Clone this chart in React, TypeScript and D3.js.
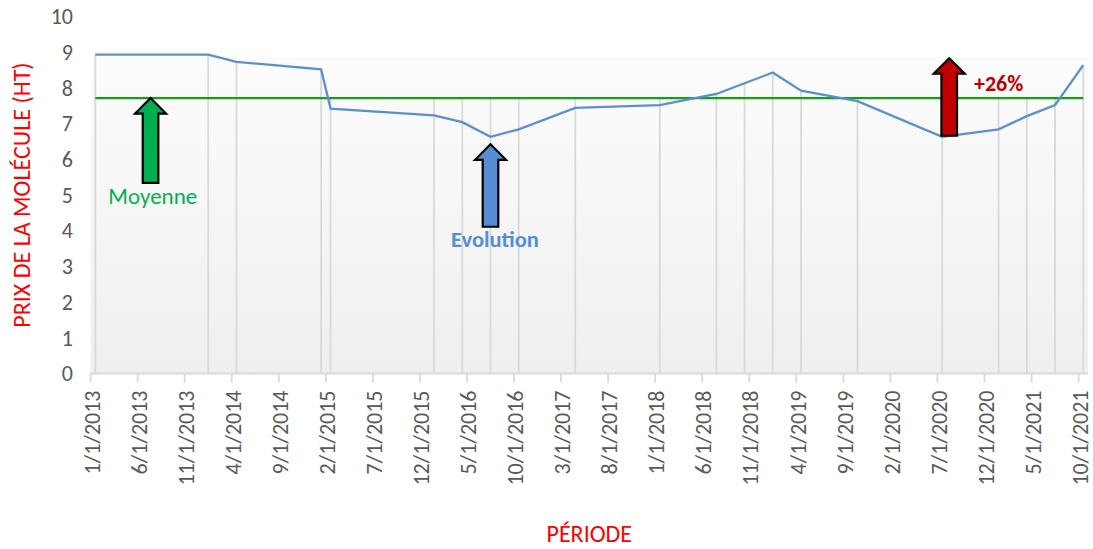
import * as d3 from "d3";
import React from "react";

// relevés (date, prix HT)
const dates = [
  "1/1/2013", "1/1/2014", "4/1/2014", "1/1/2015", "2/1/2015", "1/1/2016", "4/1/2016",
  "7/1/2016", "10/1/2016", "4/1/2017", "1/1/2018", "7/1/2018", "10/1/2018", "1/1/2019",
  "4/1/2019", "10/1/2019", "7/1/2020", "1/1/2021", "4/1/2021", "7/1/2021", "10/1/2021",
];
const prices = [
  8.93, 8.93, 8.73, 8.52, 7.42, 7.23, 7.04,
  6.63, 6.84, 7.44, 7.52, 7.83, 8.13, 8.43,
  7.92, 7.63, 6.63, 6.84, 7.21, 7.52, 8.64,
];
const yTicks = [0, 1, 2, 3, 4, 5, 6, 7, 8, 9, 10];
const xTickLabels = [
  "1/1/2013", "6/1/2013", "11/1/2013", "4/1/2014", "9/1/2014", "2/1/2015", "7/1/2015",
  "12/1/2015", "5/1/2016", "10/1/2016", "3/1/2017", "8/1/2017", "1/1/2018", "6/1/2018",
  "11/1/2018", "4/1/2019", "9/1/2019", "2/1/2020", "7/1/2020", "12/1/2020", "5/1/2021",
  "10/1/2021",
];

const W = 1093;
const H = 549;
const FONT = "Carlito, Lato, sans-serif";
const parse = d3.timeParse("%m/%d/%Y");
const start = parse("1/1/2013") as Date;
const monthIdx = (s: string) => d3.timeMonth.count(start, parse(s) as Date);

// axe en mois (Excel "entre les graduations")
const x = d3.scaleLinear().domain([0, 106]).range([90.6, 1088]);
const y = d3.scaleLinear().domain([0, 10]).range([373.5, 16.5]);
const xPt = (s: string) => x(monthIdx(s) + 0.5);

const mean = d3.mean(prices) as number;

const arrowPath = (cx: number, tipY: number, bottomY: number) => {
  const hw = 15.5, sw = 7.8, hh = 15.5;
  return `M${cx},${tipY} L${cx + hw},${tipY + hh} L${cx + sw},${tipY + hh} L${cx + sw},${bottomY} ` +
    `L${cx - sw},${bottomY} L${cx - sw},${tipY + hh} L${cx - hw},${tipY + hh} Z`;
};

// flèches: [mois, valeur bas, valeur pointe, couleur]
const arrows: [number, number, number, string][] = [
  [6.37, 5.34, mean, "#00b050"],
  [42.5, 4.11, 6.42, "#558ed5"],
  [91.25, 6.66, 8.83, "#c00000"],
];

export default function App() {
  const line = d3.line<number>()
    .x((_, i) => xPt(dates[i]))
    .y((d) => y(d));

  const x0 = x.range()[0], x1 = x.range()[1];

  return (
    <svg width={W} height={H} style={{position: "absolute", left: 0, top: 0}} fontFamily={FONT}>
      <defs>
        <linearGradient id="bg" x1="0" y1="0" x2="0" y2="1">
          <stop offset="0" stopColor="#ffffff" />
          <stop offset="0.113" stopColor="#ffffff" />
          <stop offset="0.115" stopColor="#fcfcfc" />
          <stop offset="1" stopColor="#efefef" />
        </linearGradient>
      </defs>
      <rect x={x0} y={y(10)} width={x1 - x0} height={y(0) - y(10)} fill="url(#bg)" />

      {/* lignes de projection */}
      {prices.map((p, i) => (
        <line key={i} x1={xPt(dates[i])} x2={xPt(dates[i])} y1={y(Math.max(p, mean))} y2={y(0)}
              stroke="#d9d9d9" strokeWidth={1.8} />
      ))}

      {/* axe X */}
      <line x1={x0} x2={x1} y1={y(0)} y2={y(0)} stroke="#d9d9d9" strokeWidth={1.8} />
      {xTickLabels.map((t) => {
        const m = monthIdx(t);
        return (
          <g key={t}>
            <line x1={x(m)} x2={x(m)} y1={y(0)} y2={y(0) + 9} stroke="#d9d9d9" strokeWidth={1.8} />
            <text transform={`translate(${x(m + 0.5) + 4.5},${y(0) + 17}) rotate(-90)`}
                  textAnchor="end" fontSize={22} fill="#595959">{t}</text>
          </g>
        );
      })}

      {/* axe Y */}
      {yTicks.map((t) => (
        <text key={t} x={73} y={y(t)} dy="0.35em" textAnchor="end" fontSize={22} fill="#595959">{t}</text>
      ))}

      {/* moyenne */}
      <line x1={xPt(dates[0])} x2={xPt(dates[dates.length - 1])} y1={y(mean)} y2={y(mean)}
            stroke="#13a013" strokeWidth={2.2} />
      {/* évolution */}
      <path d={line(prices) as string} fill="none" stroke="#5b8fcf" strokeWidth={2.3} />

      {arrows.map(([m, lo, hi, c], i) => (
        <path key={i} d={arrowPath(x(m), y(hi), y(lo))} fill={c} stroke="#000" strokeWidth={2.2}
              strokeLinejoin="miter" />
      ))}

      <text x={152.8} y={204} textAnchor="middle" fontSize={23} fill="#00b050">Moyenne</text>
      <text x={495} y={246.7} textAnchor="middle" fontSize={22.5} fontWeight="bold" fill="#558ed5">Evolution</text>
      <text x={974} y={90.7} fontSize={22} fontWeight="bold" fill="#c00000">+26%</text>

      <text transform={`translate(30,${(y(0) + y(10)) / 2}) rotate(-90)`} textAnchor="middle"
            fontSize={24} fill="#ff0000">PRIX DE LA MOLÉCULE (HT)</text>
      <text x={(x0 + x1) / 2} y={542} textAnchor="middle" fontSize={24} fill="#ff0000">PÉRIODE</text>
    </svg>
  );
}
